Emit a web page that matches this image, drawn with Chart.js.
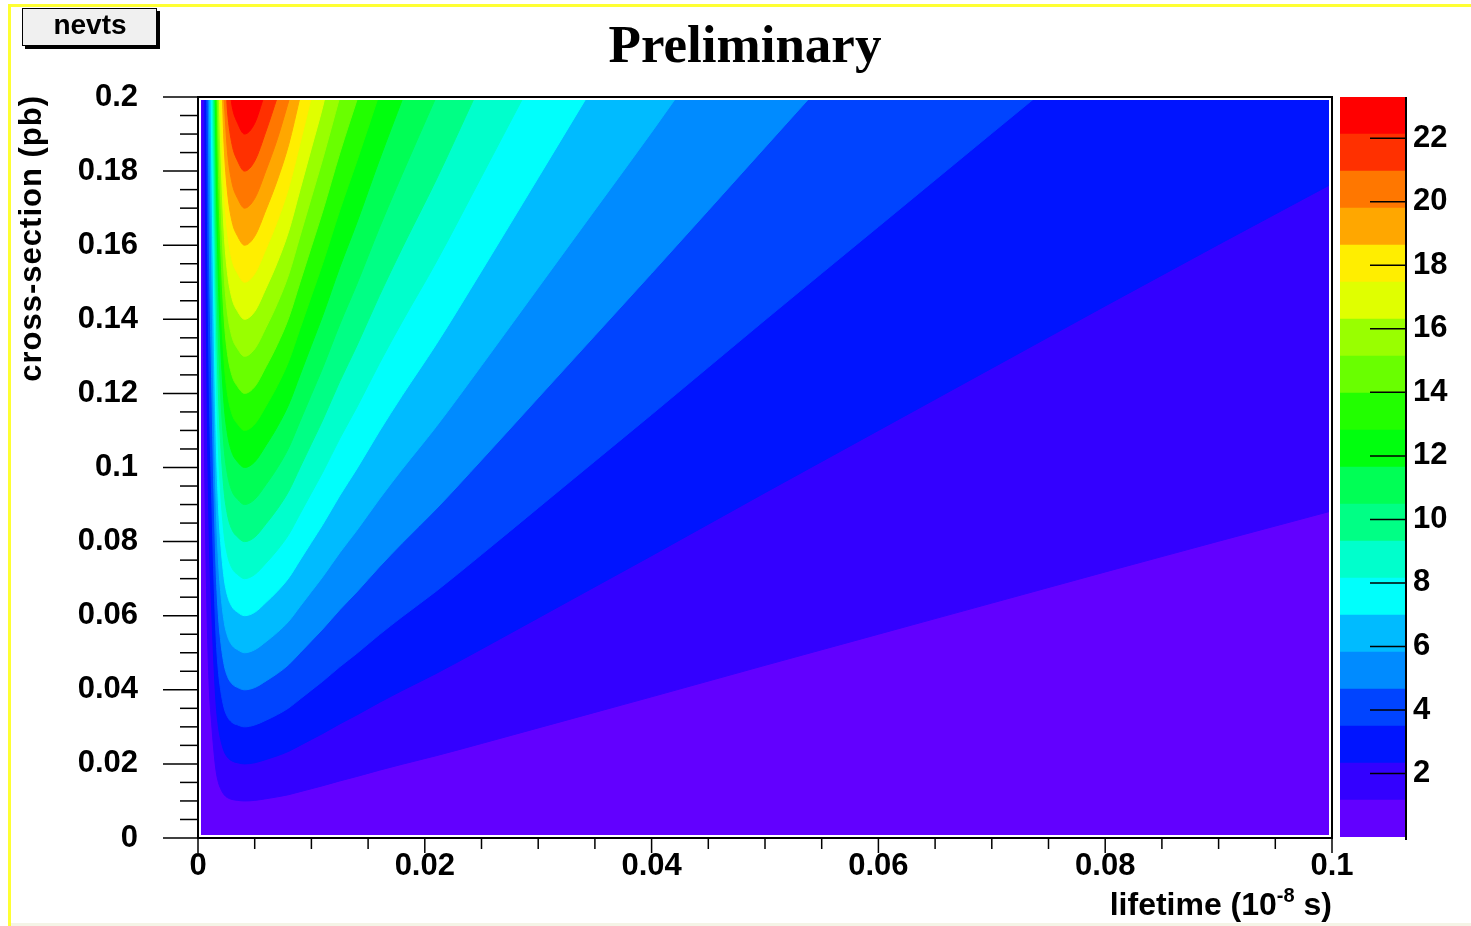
<!DOCTYPE html>
<html>
<head>
<meta charset="utf-8">
<title>nevts</title>
<script src="https://cdn.jsdelivr.net/npm/chart.js@4.4.1/dist/chart.umd.min.js"></script>
<style>
  html, body { margin: 0; padding: 0; background: #fff; }
  #wrap { position: relative; width: 1471px; height: 926px; }
  canvas { position: absolute; left: 0; top: 0; }
</style>
</head>
<body>
<div id="wrap">
  <canvas id="plot" width="1471" height="926"></canvas>
  <canvas id="bar" width="1471" height="926"></canvas>
</div>
<script>
// contour levels of nevts (colour bar edges) and tick labels
var levels = [0, 1.165, 2.33, 3.495, 4.66, 5.825, 6.99, 8.155, 9.32, 10.485, 11.65,
  12.815, 13.98, 15.145, 16.31, 17.475, 18.64, 19.805, 20.97, 22.135, 23.3];
var xTicks = [0, 0.02, 0.04, 0.06, 0.08, 0.1];
var yTicks = [0, 0.02, 0.04, 0.06, 0.08, 0.1, 0.12, 0.14, 0.16, 0.18, 0.2];
var zTicks = [2, 4, 6, 8, 10, 12, 14, 16, 18, 20, 22];

// contour boundaries [lifetime, cross-section], one per level
var contour1 = [[0.00035,0.2],[0.0004,0.170],[0.0005,0.125],[0.0006,0.097],[0.0008,0.060],[0.001,0.040],[0.0012,0.031],[0.0014,0.0235],[0.0016,0.0180],[0.0018,0.0150],[0.002,0.0133],[0.0023,0.0117],[0.0026,0.0109],[0.003,0.0104],[0.0035,0.01015],[0.0041,0.0100],[0.005,0.01015],[0.006,0.0106],[0.007,0.0111],[0.008,0.0117],[0.009,0.0125],[0.010,0.0133],[0.011,0.0141],[0.0125,0.0154],[0.014,0.0166],[0.016,0.0183],[0.018,0.0199],[0.021,0.0222],[0.025,0.0255],[0.03,0.0297],[0.035,0.0339],[0.04,0.0381],[0.05,0.0466],[0.06,0.0550],[0.07,0.0634],[0.08,0.0718],[0.09,0.0801],[0.1,0.0883]];
var contour2 = [[0.00059,0.2],[0.0006,0.194],[0.0008,0.120],[0.001,0.080],[0.0012,0.062],[0.0014,0.047],[0.0016,0.036],[0.0018,0.030],[0.002,0.0266],[0.0023,0.0234],[0.0026,0.0218],[0.003,0.0208],[0.0035,0.0203],[0.0041,0.0200],[0.005,0.0203],[0.006,0.0212],[0.007,0.0222],[0.008,0.0234],[0.009,0.025],[0.010,0.0266],[0.011,0.0282],[0.0125,0.0308],[0.014,0.0332],[0.016,0.0366],[0.018,0.0398],[0.021,0.0444],[0.025,0.051],[0.03,0.0594],[0.035,0.0678],[0.04,0.0762],[0.05,0.0932],[0.06,0.110],[0.07,0.1268],[0.08,0.1436],[0.09,0.1602],[0.1,0.1766]];
var contour3 = [[0.00076,0.2],[0.0008,0.180],[0.001,0.120],[0.0012,0.093],[0.0014,0.0705],[0.0016,0.054],[0.0018,0.045],[0.002,0.0399],[0.0023,0.0351],[0.0026,0.0327],[0.003,0.0312],[0.0035,0.0305],[0.0041,0.030],[0.005,0.0305],[0.006,0.0318],[0.007,0.0333],[0.008,0.0351],[0.009,0.0375],[0.010,0.0399],[0.011,0.0423],[0.0125,0.0462],[0.014,0.0498],[0.016,0.0549],[0.018,0.0597],[0.021,0.0666],[0.025,0.0765],[0.03,0.0891],[0.035,0.1017],[0.04,0.1143],[0.05,0.1398],[0.06,0.165],[0.07,0.1902],[0.0739,0.2]];
var contour4 = [[0.0009,0.2],[0.001,0.160],[0.0012,0.124],[0.0014,0.094],[0.0016,0.072],[0.0018,0.060],[0.002,0.0532],[0.0023,0.0468],[0.0026,0.0436],[0.003,0.0416],[0.0035,0.0406],[0.0041,0.040],[0.005,0.0406],[0.006,0.0424],[0.007,0.0444],[0.008,0.0468],[0.009,0.050],[0.010,0.0532],[0.011,0.0564],[0.0125,0.0616],[0.014,0.0664],[0.016,0.0732],[0.018,0.0796],[0.021,0.0888],[0.025,0.102],[0.03,0.1188],[0.035,0.1356],[0.04,0.1524],[0.05,0.1864],[0.054,0.2]];
var contour5 = [[0.001,0.2],[0.0012,0.155],[0.0014,0.1175],[0.0016,0.090],[0.0018,0.075],[0.002,0.0665],[0.0023,0.0585],[0.0026,0.0545],[0.003,0.052],[0.0035,0.0508],[0.0041,0.050],[0.005,0.0508],[0.006,0.053],[0.007,0.0555],[0.008,0.0585],[0.009,0.0625],[0.010,0.0665],[0.011,0.0705],[0.0125,0.077],[0.014,0.083],[0.016,0.0915],[0.018,0.0995],[0.021,0.111],[0.025,0.1275],[0.03,0.1485],[0.035,0.1695],[0.04,0.1905],[0.0422,0.2]];
var contour6 = [[0.00115,0.2],[0.0012,0.186],[0.0014,0.141],[0.0016,0.108],[0.0018,0.090],[0.002,0.0798],[0.0023,0.0702],[0.0026,0.0654],[0.003,0.0624],[0.0035,0.0609],[0.0041,0.060],[0.005,0.0609],[0.006,0.0636],[0.007,0.0666],[0.008,0.0702],[0.009,0.075],[0.010,0.0798],[0.011,0.0846],[0.0125,0.0924],[0.014,0.0996],[0.016,0.1098],[0.018,0.1194],[0.021,0.1332],[0.025,0.153],[0.03,0.1782],[0.0343,0.2]];
var contour7 = [[0.00126,0.2],[0.0014,0.1645],[0.0016,0.126],[0.0018,0.105],[0.002,0.0931],[0.0023,0.0819],[0.0026,0.0763],[0.003,0.0728],[0.0035,0.0711],[0.0041,0.070],[0.005,0.0711],[0.006,0.0742],[0.007,0.0777],[0.008,0.0819],[0.009,0.0875],[0.010,0.0931],[0.011,0.0987],[0.0125,0.1078],[0.014,0.1162],[0.016,0.1281],[0.018,0.1393],[0.021,0.1554],[0.025,0.1785],[0.0287,0.2]];
var contour8 = [[0.00136,0.2],[0.0014,0.188],[0.0016,0.144],[0.0018,0.120],[0.002,0.1064],[0.0023,0.0936],[0.0026,0.0872],[0.003,0.0832],[0.0035,0.0812],[0.0041,0.080],[0.005,0.0812],[0.006,0.0848],[0.007,0.0888],[0.008,0.0936],[0.009,0.100],[0.010,0.1064],[0.011,0.1128],[0.0125,0.1232],[0.014,0.1328],[0.016,0.1464],[0.018,0.1592],[0.021,0.1776],[0.0244,0.2]];
var contour9 = [[0.00145,0.2],[0.0016,0.162],[0.0018,0.135],[0.002,0.1197],[0.0023,0.1053],[0.0026,0.0981],[0.003,0.0936],[0.0035,0.0914],[0.0041,0.090],[0.005,0.0914],[0.006,0.0954],[0.007,0.0999],[0.008,0.1053],[0.009,0.1125],[0.010,0.1197],[0.011,0.1269],[0.0125,0.1386],[0.014,0.1494],[0.016,0.1647],[0.018,0.1791],[0.021,0.2]];
var contour10 = [[0.00153,0.2],[0.0016,0.180],[0.0018,0.150],[0.002,0.133],[0.0023,0.117],[0.0026,0.109],[0.003,0.104],[0.0035,0.1015],[0.0041,0.100],[0.005,0.1015],[0.006,0.106],[0.007,0.111],[0.008,0.117],[0.009,0.125],[0.010,0.133],[0.011,0.141],[0.0125,0.154],[0.014,0.166],[0.016,0.183],[0.0181,0.2]];
var contour11 = [[0.00159,0.2],[0.0016,0.198],[0.0018,0.165],[0.002,0.1463],[0.0023,0.1287],[0.0026,0.1199],[0.003,0.1144],[0.0035,0.1117],[0.0041,0.110],[0.005,0.1117],[0.006,0.1166],[0.007,0.1221],[0.008,0.1287],[0.009,0.1375],[0.010,0.1463],[0.011,0.1551],[0.0125,0.1694],[0.014,0.1826],[0.0159,0.2]];
var contour12 = [[0.00169,0.2],[0.0018,0.180],[0.002,0.1596],[0.0023,0.1404],[0.0026,0.1308],[0.003,0.1248],[0.0035,0.1218],[0.0041,0.120],[0.005,0.1218],[0.006,0.1272],[0.007,0.1332],[0.008,0.1404],[0.009,0.150],[0.010,0.1596],[0.011,0.1692],[0.0125,0.1848],[0.0141,0.2]];
var contour13 = [[0.00177,0.2],[0.0018,0.195],[0.002,0.1729],[0.0023,0.1521],[0.0026,0.1417],[0.003,0.1352],[0.0035,0.132],[0.0041,0.130],[0.005,0.132],[0.006,0.1378],[0.007,0.1443],[0.008,0.1521],[0.009,0.1625],[0.010,0.1729],[0.011,0.1833],[0.0125,0.2]];
var contour14 = [[0.00188,0.2],[0.002,0.1862],[0.0023,0.1638],[0.0026,0.1526],[0.003,0.1456],[0.0035,0.1421],[0.0041,0.140],[0.005,0.1421],[0.006,0.1484],[0.007,0.1554],[0.008,0.1638],[0.009,0.175],[0.010,0.1862],[0.011,0.1974],[0.0112,0.2]];
var contour15 = [[0.002,0.2],[0.0023,0.1755],[0.0026,0.1635],[0.003,0.156],[0.0035,0.1523],[0.0041,0.150],[0.005,0.1523],[0.006,0.159],[0.007,0.1665],[0.008,0.1755],[0.009,0.1875],[0.010,0.2]];
var contour16 = [[0.00215,0.2],[0.0023,0.1872],[0.0026,0.1744],[0.003,0.1664],[0.0035,0.1624],[0.0041,0.160],[0.005,0.1624],[0.006,0.1696],[0.007,0.1776],[0.008,0.1872],[0.009,0.2]];
var contour17 = [[0.00229,0.2],[0.0026,0.1853],[0.003,0.1768],[0.0035,0.1726],[0.0041,0.170],[0.005,0.1726],[0.006,0.1802],[0.007,0.1887],[0.0081,0.2]];
var contour18 = [[0.00252,0.2],[0.0026,0.1962],[0.003,0.1872],[0.0035,0.1827],[0.0041,0.180],[0.005,0.1827],[0.006,0.1908],[0.0070,0.2]];
var contour19 = [[0.0029,0.2],[0.003,0.1976],[0.0035,0.1929],[0.0041,0.190],[0.005,0.1929],[0.0058,0.2]];

var contours = [contour1, contour2, contour3, contour4, contour5, contour6, contour7,
  contour8, contour9, contour10, contour11, contour12, contour13, contour14, contour15,
  contour16, contour17, contour18, contour19];

// ROOT "pretty" palette, one colour per band
var palette = ['#6200ff', '#3300ff', '#0014ff', '#0044ff', '#008bff', '#00bbff', '#00fffc',
  '#00ffcc', '#00ff85', '#00ff55', '#00ff0e', '#22ff00', '#69ff00', '#99ff00', '#e0ff00',
  '#ffee00', '#ffa700', '#ff7700', '#ff3000', '#ff0000'];

var sans = '"Liberation Sans", Arial, sans-serif';
var tickFont = { family: sans, size: 31, weight: 'bold' };

function fmt(v) {
  return String(+Number(v).toFixed(3));
}

function line(ctx, x1, y1, x2, y2) {
  ctx.beginPath();
  ctx.moveTo(x1, y1);
  ctx.lineTo(x2, y2);
  ctx.stroke();
}

var frame = {
  id: 'frame',
  beforeDatasetsDraw: function(chart) {
    var a = chart.chartArea, ctx = chart.ctx;
    ctx.save();
    ctx.fillStyle = palette[0];
    ctx.fillRect(a.left, a.top, a.right - a.left, a.bottom - a.top);
    ctx.restore();
  },
  afterDraw: function(chart) {
    var a = chart.chartArea, ctx = chart.ctx;
    var xs = chart.scales.x, ys = chart.scales.y;
    ctx.save();
    // white gap + frame
    ctx.strokeStyle = '#fff';
    ctx.lineWidth = 6;
    ctx.strokeRect(a.left, a.top, a.right - a.left, a.bottom - a.top);
    ctx.strokeStyle = '#000';
    ctx.lineWidth = 2;
    ctx.strokeRect(a.left, a.top, a.right - a.left, a.bottom - a.top);

    // tick marks, 4 divisions per labelled step
    ctx.lineWidth = 1.5;
    for (var i = 0; i <= 20; i++) {
      var px = xs.getPixelForValue(i * 0.005);
      line(ctx, px, a.bottom, px, a.bottom + (i % 4 == 0 ? 15 : 11));
    }
    for (var j = 0; j <= 40; j++) {
      var py = ys.getPixelForValue(j * 0.005);
      line(ctx, a.left - (j % 4 == 0 ? 35 : 18), py, a.left, py);
    }

    // yellow pad border
    ctx.fillStyle = '#ffff33';
    ctx.fillRect(8, 4, 1463, 3);
    ctx.fillRect(8, 4, 3, 922);
    ctx.fillStyle = '#f4f4e6';
    ctx.fillRect(11, 923, 1460, 3);

    // stats-like box
    ctx.fillStyle = '#000';
    ctx.fillRect(25, 11, 135, 38);
    ctx.fillStyle = '#f0f0f0';
    ctx.fillRect(22, 8, 135, 38);
    ctx.lineWidth = 1;
    ctx.strokeRect(22.5, 8.5, 134, 37);
    ctx.fillStyle = '#000';
    ctx.font = 'bold 28px ' + sans;
    ctx.textAlign = 'center';
    ctx.textBaseline = 'alphabetic';
    ctx.fillText('nevts', 90, 34);

    // title
    ctx.font = 'bold 53px "Liberation Serif", "Times New Roman", serif';
    ctx.fillText('Preliminary', 745, 62);

    // x axis title with superscript
    var p1 = 'lifetime (10', sup = '-8', p2 = ' s)';
    ctx.textAlign = 'left';
    ctx.font = 'bold 32px ' + sans;
    var w1 = ctx.measureText(p1).width, w2 = ctx.measureText(p2).width;
    ctx.font = 'bold 20px ' + sans;
    var ws = ctx.measureText(sup).width;
    var x0 = a.right - (w1 + ws + w2);
    ctx.font = 'bold 32px ' + sans;
    ctx.fillText(p1, x0, 915);
    ctx.fillText(p2, x0 + w1 + ws, 915);
    ctx.font = 'bold 20px ' + sans;
    ctx.fillText(sup, x0 + w1, 902);

    // y axis title
    ctx.translate(41, a.top - 2);
    ctx.rotate(-Math.PI / 2);
    ctx.textAlign = 'right';
    ctx.font = 'bold 31px ' + sans;
    ctx.letterSpacing = '1px';
    ctx.fillText('cross-section (pb)', 0, 0);
    ctx.restore();
  }
};

var datasets = [];
for (var k = 0; k < contours.length; k++) {
  datasets.push({
    label: 'nevts > ' + levels[k + 1],
    data: contours[k],
    backgroundColor: palette[k + 1],
    borderColor: palette[k + 1],
    borderWidth: 1,
    pointRadius: 0,
    fill: 'end',
    cubicInterpolationMode: 'monotone',
    order: contours.length - k
  });
}

new Chart(document.getElementById('plot'), {
  type: 'line',
  data: { datasets: datasets },
  options: {
    responsive: false,
    animation: false,
    layout: { padding: { left: 0, top: 97, right: 139, bottom: 0 } },
    plugins: { legend: { display: false }, tooltip: { enabled: false } },
    scales: {
      x: {
        type: 'linear', min: 0, max: 0.1,
        grid: { display: false, drawTicks: false },
        border: { display: false },
        ticks: { font: tickFont, color: '#000', padding: 10, maxRotation: 0, callback: fmt },
        afterBuildTicks: function(s) { s.ticks = xTicks.map(function(v) { return { value: v }; }); },
        afterFit: function(s) { s.height = 88; }
      },
      y: {
        type: 'linear', min: 0, max: 0.2,
        grid: { display: false, drawTicks: false },
        border: { display: false },
        ticks: { font: tickFont, color: '#000', padding: 60, callback: fmt },
        afterBuildTicks: function(s) { s.ticks = yTicks.map(function(v) { return { value: v }; }); },
        afterFit: function(s) { s.width = 198; }
      }
    }
  },
  plugins: [frame]
});

// colour bar
var barAxis = {
  id: 'barAxis',
  afterDraw: function(chart) {
    var a = chart.chartArea, ctx = chart.ctx, zs = chart.scales.y;
    ctx.save();
    ctx.strokeStyle = '#000';
    ctx.lineWidth = 2;
    line(ctx, a.right, a.top, a.right, a.bottom + 3);
    ctx.lineWidth = 1.5;
    zTicks.forEach(function(v) {
      var py = zs.getPixelForValue(v);
      line(ctx, a.right - 36, py, a.right, py);
    });
    ctx.restore();
  }
};

var bands = [];
for (var b = 0; b < palette.length; b++) {
  bands.push({
    label: levels[b] + '-' + levels[b + 1],
    data: [[levels[b], levels[b + 1]]],
    backgroundColor: palette[b],
    borderWidth: 0,
    barPercentage: 1,
    categoryPercentage: 1,
    grouped: false
  });
}

new Chart(document.getElementById('bar'), {
  type: 'bar',
  data: { labels: ['nevts'], datasets: bands },
  options: {
    responsive: false,
    animation: false,
    layout: { padding: { left: 1340, top: 97, right: 0, bottom: 89 } },
    plugins: { legend: { display: false }, tooltip: { enabled: false } },
    scales: {
      x: { display: false },
      y: {
        position: 'right', min: 0, max: 23.3,
        grid: { display: false, drawTicks: false },
        border: { display: false },
        ticks: { font: tickFont, color: '#000', padding: 7, callback: fmt },
        afterBuildTicks: function(s) { s.ticks = zTicks.map(function(v) { return { value: v }; }); },
        afterFit: function(s) { s.width = 65; }
      }
    }
  },
  plugins: [barAxis]
});
</script>
</body>
</html>
